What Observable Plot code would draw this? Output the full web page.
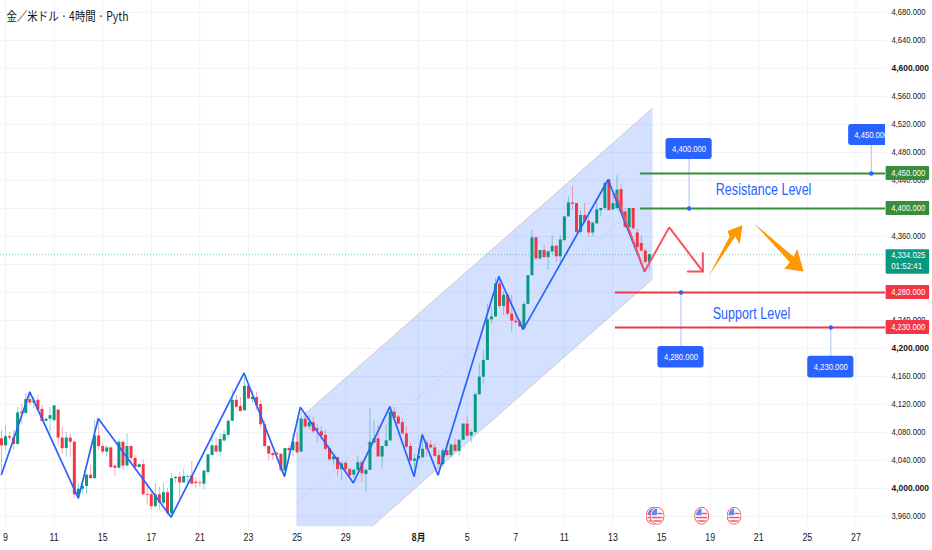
<!DOCTYPE html>
<html><head><meta charset="utf-8">
<script src="https://cdn.jsdelivr.net/npm/d3@7"></script>
<script src="https://cdn.jsdelivr.net/npm/@observablehq/plot@0.6"></script>
<style>html,body{margin:0;padding:0;background:#fff}svg{display:block}</style>
</head><body><div id="chart"></div>
<script>
const firstBar=-1;
const opens=[4071,4061,4074,4072,4063,4109,4107,4127,4122,4126,4113,4096,4099,4097,4112,4072,4057,4072,4066,3991,3999,4003,4019,4014,4075,4060,4052,4058,4032,4029,4066,4032,4060,4043,4030,4034,3991,3991,3974,3991,3979,3994,3964,4014,4016,4008,4016,4018,4009,4008,4006,4023,4047,4061,4052,4068,4076,4096,4126,4117,4111,4146,4127,4130,4120,4091,4060,4050,4050,4049,4025,4057,4054,4066,4052,4099,4088,4094,4085,4081,4076,4057,4041,4044,4027,4036,4027,4019,4026,4037,4020,4026,4065,4071,4045,4060,4068,4109,4102,4094,4078,4060,4039,4042,4044,4065,4062,4058,4047,4034,4054,4047,4062,4053,4069,4092,4075,4080,4134,4159,4183,4241,4245,4292,4260,4276,4249,4239,4238,4228,4263,4304,4358,4328,4340,4330,4338,4346,4331,4354,4388,4408,4407,4366,4390,4382,4365,4378,4397,4400,4441,4398,4400,4427,4395,4373,4400,4365,4350,4339,4323];
const highs=[4083,4090,4080,4083,4116,4121,4136,4136,4130,4133,4118,4100,4116,4118,4113,4088,4080,4078,4068,4007,4009,4021,4033,4097,4095,4064,4061,4059,4035,4071,4068,4078,4061,4047,4036,4041,4007,3995,4007,4002,4007,4000,4022,4017,4023,4028,4019,4038,4016,4011,4025,4049,4083,4073,4078,4083,4099,4141,4133,4130,4159,4149,4140,4137,4126,4097,4061,4052,4052,4049,4057,4061,4078,4080,4109,4109,4104,4102,4091,4088,4083,4059,4046,4045,4038,4038,4030,4028,4046,4040,4028,4114,4097,4090,4060,4090,4117,4116,4104,4099,4088,4064,4049,4057,4078,4069,4068,4064,4054,4057,4068,4064,4071,4069,4092,4104,4084,4137,4178,4197,4263,4259,4300,4302,4281,4278,4276,4247,4241,4266,4304,4369,4359,4340,4347,4340,4361,4347,4361,4388,4417,4431,4407,4397,4407,4388,4381,4411,4400,4436,4441,4421,4447,4434,4400,4400,4400,4371,4361,4342,4335];
const lows=[4021,4054,4068,4054,4063,4092,4107,4118,4114,4111,4095,4095,4078,4095,4061,4049,4044,4045,3985,3985,3992,3992,4014,4014,4054,4049,4045,4028,4017,4028,4026,4032,4038,4025,4029,3990,3976,3969,3973,3969,3977,3961,3959,4007,3985,4007,4007,4006,4000,4002,3998,4020,4047,4052,4045,4066,4072,4096,4114,4109,4111,4128,4121,4111,4085,4059,4040,4040,4040,4023,4021,4045,4045,4049,4052,4085,4083,4078,4065,4071,4054,4039,4033,4017,4011,4021,4016,4014,4023,4009,3995,4026,4064,4045,4028,4059,4068,4099,4090,4076,4057,4038,4021,4040,4042,4045,4057,4045,4018,4030,4045,4044,4052,4045,4069,4073,4065,4078,4133,4149,4183,4235,4245,4257,4247,4245,4223,4235,4230,4228,4262,4304,4326,4326,4328,4312,4333,4323,4321,4354,4388,4397,4364,4362,4378,4359,4360,4378,4388,4398,4397,4397,4397,4392,4371,4371,4369,4342,4338,4321,4311];
const closes=[4061,4074,4072,4063,4108,4107,4127,4122,4125,4112,4096,4099,4104,4118,4072,4057,4072,4066,3991,3999,4003,4019,4014,4075,4060,4052,4058,4030,4029,4066,4032,4060,4043,4030,4034,3991,3990,3974,3991,3979,3994,3964,4014,4016,4008,4017,4017,4006,4007,4007,4025,4048,4061,4052,4070,4077,4096,4126,4116,4110,4146,4128,4130,4118,4091,4060,4049,4047,4048,4026,4057,4054,4066,4051,4099,4088,4094,4081,4083,4075,4056,4041,4045,4027,4035,4027,4018,4026,4037,4021,4026,4066,4071,4045,4060,4068,4109,4100,4092,4078,4059,4039,4042,4046,4056,4056,4058,4046,4034,4054,4047,4062,4053,4069,4092,4075,4080,4134,4159,4183,4241,4245,4292,4260,4276,4249,4239,4237,4231,4263,4304,4358,4328,4340,4330,4338,4346,4331,4355,4388,4408,4406,4366,4390,4381,4365,4379,4398,4400,4436,4397,4407,4426,4395,4373,4400,4371,4344,4339,4323,4334];

const zigK=[-1,6,18,22.9,40.9,58.9,68.9,72.8,85.9,94.9,100.9,102.9,106.8,121.8,127.8,148.8,157.8];
const zigP=[4020,4138,3986,4100,3959,4165,4017,4116,4008,4117,4017,4077,4019,4303,4227,4441,4310];
const redK=[150.7,157.8,163.9,172.2];
const redP=[4421,4310,4373,4310];
const headK=[168.5,172.2,172.2];
const headP=[4310,4310,4336];

const chanK=[71.85,159.75,159.75,90.5,71.85];
const chanP=[4096,4543,4299,3946,3946];
const chanTopK=[71.85,159.75], chanTopP=[4096,4543];
const chanLowK=[90.5,159.75], chanLowP=[3946,4299];
const chanMidK=[71.85,159.75], chanMidP=[3979,4421];

const arrowAK=[173.7,178.8,178.3,182,181.3,180.2];
const arrowAP=[4304,4360,4368,4376,4349,4360];
const arrowBK=[184.8,194.6,195.5,197.1,192.3,193.7];
const arrowBP=[4379,4331,4342,4310,4314,4323];

const xMin=-1.235, xMax=217.3;
const levelPrices=[4450,4400,4280,4230];
const levelStart=[156.8,156.8,150.6,150.6];
const levelColors=["#388e3c","#388e3c","#f23645","#f23645"];
const calloutK=[213.8,168.8,166.8,203.8];
const boxK1=[208.2,163.1,161.1,198.1];
const boxK2=[219.4,174.5,172.5,209.5];
const boxTop=[4520,4500,4203,4189];
const boxBottom=[4490,4470,4172,4158];
const boxLabels=["4,450.000","4,400.000","4,280.000","4,230.000"];

const lastPrice=4334.025;
const countdown="01:52:41";

const allPrices=[4680,4640,4600,4560,4520,4480,4440,4400,4360,4320,4280,4240,4200,4160,4120,4080,4040,4000,3960];
const boldPrices=[4600,4200,4000];
const hiddenPrices=[4400,4320,4280];
const dayK=[0,12,24,36,48,60,72,84,102,114,126,138,150,162,174,186,198,210];
const dayLabels=["9","11","15","17","21","23","25","29","8月","5","7","11","13","15","19","21","25","27"];

const flagK=[159.9,160.9,171.9,179.9];
const flagP=3961;
const flagSvg='<svg xmlns="http://www.w3.org/2000/svg" width="30" height="36" viewBox="0 0 30 36"><defs><clipPath id="c"><ellipse cx="15" cy="18" rx="11.5" ry="14.5"/></clipPath></defs><ellipse cx="15" cy="18" rx="14" ry="17" fill="#fff" stroke="#f7525f" stroke-width="2"/><g clip-path="url(#c)"><rect width="30" height="36" fill="#fff"/><rect x="0" y="20" width="30" height="3" fill="#f7525f"/><rect x="0" y="27" width="30" height="3" fill="#f7525f"/><rect x="16" y="12" width="14" height="3" fill="#f7525f"/><rect x="0" y="0" width="15" height="17" fill="#5b8cf5"/></g></svg>';
const flagSrc="data:image/svg+xml,"+encodeURIComponent(flagSvg);

const GREEN="#089981", RED="#f23645", BLUE="#2962ff", INK="#131722";
const SANS='"Liberation Sans",sans-serif';
const TITLE="金／米ドル · 4時間 · Pyth";
const idx=d3.range(opens.length);
const pts=(k,p)=>k.map((x,i)=>({x,y:p[i]}));
const col=i=>closes[i]>=opens[i]?GREEN:RED;
const kOf=i=>i+firstBar;
const fmt=d3.format(",.3f");
const lv=levelPrices.map((p,i)=>i);
const lineXY=(k,p,o)=>Plot.line(pts(k,p),{x:"x",y:"y",...o});

const chart=Plot.plot({
  width:932,height:550,marginLeft:0,marginRight:47,marginTop:0,marginBottom:24,
  style:{background:"#fff",fontFamily:SANS},
  x:{domain:[xMin,xMax],range:[0,885],axis:null},
  y:{domain:[3945.7,4697.1],range:[526,0],axis:null},
  marks:[
    Plot.gridY(allPrices,{stroke:"#f0f3fa",strokeOpacity:1}),
    Plot.gridX(dayK,{stroke:"#f0f3fa",strokeOpacity:1}),
    lineXY(chanK,chanP,{fill:BLUE,fillOpacity:0.2,stroke:"none"}),
    lineXY(chanTopK,chanTopP,{stroke:"#d1ccc6",strokeWidth:1}),
    lineXY(chanLowK,chanLowP,{stroke:"#d1ccc6",strokeWidth:1}),
    lineXY(chanMidK,chanMidP,{stroke:"#d8cfc4",strokeWidth:1,strokeDasharray:"3,3"}),
    Plot.ruleY([lastPrice],{stroke:GREEN,strokeOpacity:0.5,strokeWidth:1,strokeDasharray:"1,2"}),
    Plot.ruleX(idx,{x:kOf,y1:i=>lows[i],y2:i=>highs[i],stroke:col,strokeOpacity:0.42,strokeWidth:1}),
    Plot.ruleX(idx,{x:kOf,y1:i=>opens[i],y2:i=>closes[i],stroke:col,strokeWidth:3}),
    lineXY(zigK,zigP,{stroke:BLUE,strokeWidth:1.7,strokeLinejoin:"miter"}),
    lineXY(redK,redP,{stroke:"#f7525f",strokeWidth:2,strokeLinejoin:"miter"}),
    lineXY(headK,headP,{stroke:"#f7525f",strokeWidth:2,strokeLinejoin:"miter"}),
    lineXY(arrowAK,arrowAP,{fill:"#ff9800",stroke:"none"}),
    lineXY(arrowBK,arrowBP,{fill:"#ff9800",stroke:"none"}),
    Plot.ruleX(lv,{x:i=>calloutK[i],y1:i=>levelPrices[i],y2:i=>i<2?boxBottom[i]:boxTop[i],stroke:"#a8bfff",strokeWidth:1}),
    Plot.ruleY(lv,{y:i=>levelPrices[i],x1:i=>levelStart[i],x2:xMax,stroke:i=>levelColors[i],strokeWidth:2}),
    Plot.dot(lv,{x:i=>calloutK[i],y:i=>levelPrices[i],r:2.2,fill:BLUE,stroke:"none"}),
    Plot.rect(lv,{x1:i=>boxK1[i],x2:i=>boxK2[i],y1:i=>boxBottom[i],y2:i=>boxTop[i],fill:BLUE,rx:3,clip:"frame"}),
    Plot.text(lv,{x:i=>(boxK1[i]+boxK2[i])/2,y:i=>(boxTop[i]+boxBottom[i])/2,text:i=>boxLabels[i],fill:"#fff",fontSize:9.5,clip:"frame"}),
    Plot.text(["Resistance Level"],{x:[187.2],y:[4427],fill:BLUE,fontSize:16}),
    Plot.text(["Support Level"],{x:[184.2],y:[4250],fill:BLUE,fontSize:16}),
    Plot.image(flagK,{x:d=>d,y:()=>flagP,src:()=>flagSrc,width:15,height:18}),
    Plot.axisY(allPrices.filter(p=>!boldPrices.includes(p)&&!hiddenPrices.includes(p)),{anchor:"right",tickSize:0,tickPadding:6,tickFormat:fmt,fontSize:9,fill:INK,label:null}),
    Plot.axisY(boldPrices,{anchor:"right",tickSize:0,tickPadding:6,tickFormat:fmt,fontSize:9,fontWeight:"bold",fill:INK,label:null}),
    Plot.axisX(dayK.filter((k,i)=>dayLabels[i]!=="8月"),{anchor:"bottom",tickSize:0,tickPadding:7,fontSize:10,fill:INK,label:null,tickFormat:k=>dayLabels[dayK.indexOf(k)]}),
    Plot.axisX([102],{anchor:"bottom",tickSize:0,tickPadding:7,fontSize:10,fontWeight:"bold",fill:INK,label:null,tickFormat:()=>"8月",fontFamily:'"Noto Sans CJK JP",sans-serif'}),
    Plot.rect(lv,{x1:xMax+0.15,x2:228.2,y1:i=>levelPrices[i]-10,y2:i=>levelPrices[i]+10,fill:i=>levelColors[i],rx:1}),
    Plot.text(lv,{x:()=>218.7,y:i=>levelPrices[i],text:i=>fmt(levelPrices[i]),textAnchor:"start",fill:"#fff",fontSize:9}),
    Plot.rect([0],{x1:xMax+0.15,x2:228.2,y1:4306,y2:4341,fill:GREEN,rx:1}),
    Plot.text([fmt(lastPrice)],{x:[218.7],y:[4333],text:d=>d,textAnchor:"start",fill:"#fff",fontSize:9}),
    Plot.text([countdown],{x:[218.7],y:[4317],text:d=>d,textAnchor:"start",fill:"#fff",fontSize:9}),
    Plot.text([TITLE],{frameAnchor:"top-left",dx:6,dy:16,lineAnchor:"middle",textAnchor:"start",fontSize:12.5,fill:INK,fontFamily:'"Noto Sans CJK JP",sans-serif'})
  ]
});
document.getElementById("chart").appendChild(chart);
/* the reference's labels are horizontally condensed */
const boldLabels=boldPrices.map(fmt);
chart.querySelectorAll("text").forEach(t=>{
  const s=t.textContent, len=t.getComputedTextLength();
  let target;
  if(s===TITLE) target=122;
  else if(s==="Resistance Level"||s==="Support Level") target=len*0.785;
  else if(/^\d{1,2}$/.test(s)||s==="8月") target=len*0.88;
  else if(boldLabels.includes(s)) target=37.5;
  else if(s===countdown) target=31;
  else target=34;
  t.setAttribute("textLength",target.toFixed(1));
  t.setAttribute("lengthAdjust","spacingAndGlyphs");
});
</script></body></html>
